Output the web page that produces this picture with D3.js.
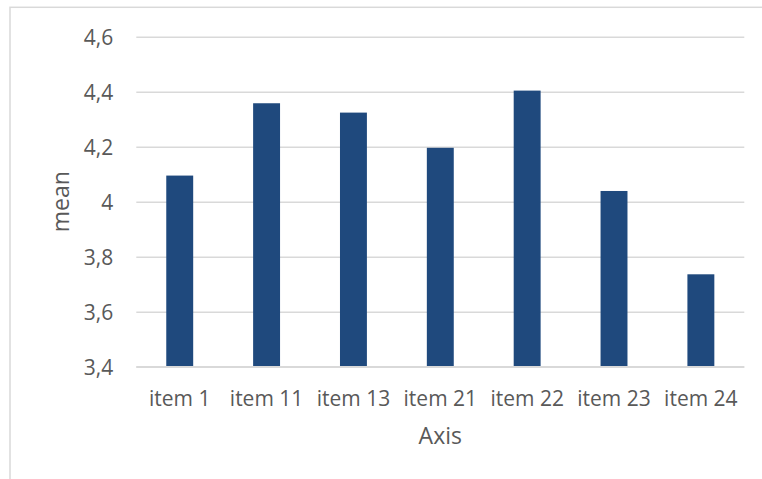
<!DOCTYPE html>
<html>
<head>
<meta charset="utf-8">
<script src="https://cdn.jsdelivr.net/npm/d3@7"></script>
<style>
  html, body { margin: 0; padding: 0; background: #fff; }
  svg { display: block; }
  text { font-family: "Open Sans", sans-serif; fill: #595959; }
</style>
</head>
<body>
<svg id="chart" width="762" height="479"></svg>
<script>
// Mean score per item
const categories = ["item 1", "item 11", "item 13", "item 21", "item 22", "item 23", "item 24"];
const means = [4.095, 4.358, 4.324, 4.196, 4.404, 4.039, 3.736];
const yTicks = [3.4, 3.6, 3.8, 4.0, 4.2, 4.4, 4.6];

const svg = d3.select("#chart");
const W = 762, H = 479;
const plot = { left: 136.3, right: 744.3, top: 36.7, bottom: 366.7 };

// chart-area frame
svg.append("rect")
  .attr("x", 10).attr("y", 7.3)
  .attr("width", W).attr("height", H)
  .attr("fill", "#fff")
  .attr("stroke", "#d9d9d9").attr("stroke-width", 1.5);

const x = d3.scaleBand()
  .domain(categories)
  .range([plot.left, plot.right])
  .paddingInner(0.69).paddingOuter(0.345);

const y = d3.scaleLinear()
  .domain([3.4, 4.6])
  .range([plot.bottom, plot.top]);

const fmt = v => d3.format("")(+v.toFixed(1)).replace(".", ",");

// horizontal gridlines + y labels
const yAxis = d3.axisLeft(y)
  .tickValues(yTicks)
  .tickSize(-(plot.right - plot.left))
  .tickPadding(23)
  .tickFormat(fmt);

const gy = svg.append("g")
  .attr("transform", `translate(${plot.left},0)`)
  .call(yAxis);
gy.select(".domain").remove();
gy.selectAll(".tick line").attr("stroke", "#d9d9d9").attr("stroke-width", 1.5);
gy.selectAll(".tick text")
  .attr("font-size", 21)
  .attr("dy", "0.38em")
  .style("fill", "#595959");

// bars
svg.append("g")
  .selectAll("rect")
  .data(categories.map((c, i) => ({ c, v: means[i] })))
  .join("rect")
  .attr("x", d => x(d.c))
  .attr("width", x.bandwidth())
  .attr("y", d => y(d.v))
  .attr("height", d => y(3.4) - y(d.v))
  .attr("fill", "#1f497d");

// category axis
const xAxis = d3.axisBottom(x).tickSize(0).tickPadding(0);
const gx = svg.append("g")
  .attr("transform", `translate(0,${plot.bottom})`)
  .call(xAxis);
gx.select(".domain")
  .attr("d", `M${plot.left},0H${plot.right}`)
  .attr("stroke", "#d9d9d9").attr("stroke-width", 1.5);
gx.selectAll(".tick text")
  .attr("font-size", 21)
  .attr("y", 39.3)
  .attr("dy", 0)
  .style("fill", "#595959");

// axis titles
svg.append("text")
  .attr("x", (plot.left + plot.right) / 2)
  .attr("y", 444.3)
  .attr("text-anchor", "middle")
  .attr("font-size", 23)
  .text("Axis");

svg.append("text")
  .attr("transform", `translate(69,${(plot.top + plot.bottom) / 2}) rotate(-90)`)
  .attr("text-anchor", "middle")
  .attr("font-size", 23)
  .text("mean");
</script>
</body>
</html>
